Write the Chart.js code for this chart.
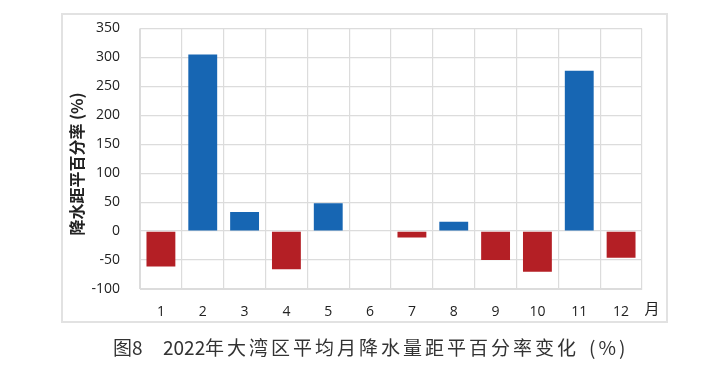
<!DOCTYPE html>
<html>
<head>
<meta charset="utf-8">
<script src="https://cdn.jsdelivr.net/npm/chart.js@4"></script>
<style>
  html, body { margin: 0; padding: 0; background: #fff; }
  #wrap { width: 720px; height: 388px; position: relative; }
</style>
</head>
<body>
<div id="wrap"><canvas id="rain" width="720" height="388"></canvas></div>
<script>
const months = ["1", "2", "3", "4", "5", "6", "7", "8", "9", "10", "11", "12"];
const anomaly = [-61, 305, 33, -66, 48, 0, -11, 16, -50, -70, 277, -46];
const yTicks = [-100, -50, 0, 50, 100, 150, 200, 250, 300, 350];

const blue = "#1766b3";
const red = "#b41f25";

// frame, y title, unit and caption
const extras = {
  id: "extras",
  afterDraw(chart) {
    const c = chart.ctx;
    c.save();
    c.strokeStyle = "#e2e2e2";
    c.lineWidth = 2;
    c.strokeRect(62, 14, 605, 308);

    c.fillStyle = "#222";
    c.font = "bold 16px 'Noto Sans CJK SC'";
    c.translate(77, 164);
    c.rotate(-Math.PI / 2);
    c.textAlign = "center";
    c.textBaseline = "middle";
    c.fillText("降水距平百分率 (%)", 0, 0);
    c.restore();

    c.save();
    c.fillStyle = "#222";
    c.font = "15px 'Noto Sans CJK SC'";
    c.textAlign = "center";
    c.textBaseline = "middle";
    c.fillText("月", 652, 308);

    c.fillStyle = "#333";
    c.font = "19px 'Noto Sans CJK SC'";
    c.textAlign = "left";
    c.letterSpacing = "0px";
    c.fillText("图8", 113, 348);
    c.fillText("2022", 163, 348);
    c.letterSpacing = "3px";
    c.fillText("年大湾区平均月降水量距平百分率变化", 205, 348);
    c.fillText("(%)", 589, 348);
    c.restore();
  }
};

const ctx = document.getElementById("rain").getContext("2d");
const chart = new Chart(ctx, {
  type: "bar",
  data: {
    labels: months,
    datasets: [
      {
        label: "距平百分率",
        data: anomaly,
        backgroundColor: anomaly.map(v => (v >= 0 ? blue : red)),
        barPercentage: 0.69,
        categoryPercentage: 1,
      },
    ],
  },
  options: {
    responsive: false,
    animation: false,
    devicePixelRatio: 1,
    layout: { padding: { left: 0, top: 27, right: 78, bottom: 0 } },
    plugins: {
      legend: { display: false },
      tooltip: { enabled: false },
    },
    scales: {
      x: {
        grid: { color: "#dcdcdc", lineWidth: 1.2, drawTicks: false, offset: true },
        border: { color: "#dcdcdc" },
        ticks: { color: "#222", font: { family: "Open Sans", size: 14 }, padding: 15, maxRotation: 0, autoSkip: false },
        afterFit(scale) { scale.height = 99; },
      },
      y: {
        min: -100,
        max: 350,
        afterBuildTicks(scale) { scale.ticks = yTicks.map(v => ({ value: v })); },
        grid: { color: "#dcdcdc", lineWidth: 1.2, drawTicks: false },
        border: { color: "#dcdcdc" },
        ticks: { color: "#222", font: { family: "Open Sans", size: 14 }, padding: 20, autoSkip: false },
        afterFit(scale) { scale.width = 140; },
      },
    },
  },
  plugins: [extras],
});
</script>
</body>
</html>
